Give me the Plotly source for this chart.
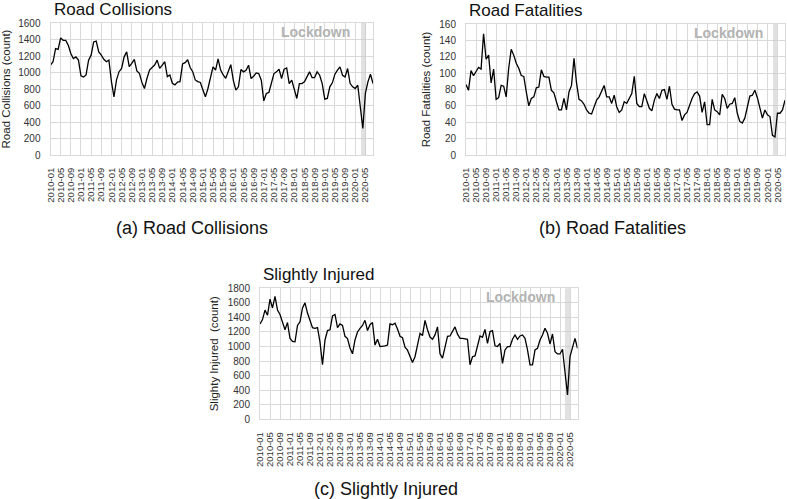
import plotly.graph_objects as go


MONTHS = [f"{y}-{m:02d}" for y in range(2010, 2021) for m in range(1, 13)][:128]

COLLISIONS = [
    1090, 1130, 1290, 1280, 1420, 1390, 1390, 1330, 1230, 1170,
    1190, 1150, 960, 945, 970, 1150, 1210, 1370, 1380, 1250,
    1210, 1160, 1130, 1150, 890, 705, 910, 1010, 1050, 1190,
    1250, 1070, 1110, 1160, 1020, 990, 880, 806, 930, 1030,
    1060, 1090, 1150, 1050, 1090, 1130, 950, 970, 870, 850,
    885, 890, 1105, 1120, 1155, 1060, 1010, 910, 890, 880,
    790, 705, 806, 947, 1068, 1030, 1165, 1030, 970, 930,
    1010, 1095, 905, 786, 826, 1036, 1008, 1028, 1088, 927,
    955, 995, 987, 907, 657, 746, 758, 887, 987, 1008,
    1040, 927, 1040, 1056, 866, 907, 786, 685, 866, 866,
    887, 947, 1008, 939, 939, 1008, 967, 866, 677, 685,
    826, 875, 980, 1028, 1068, 967, 947, 1048, 866, 826,
    806, 846, 600, 322, 746, 887, 979, 866,
]

FATALITIES = [
    86, 79, 103, 97, 102, 107, 105, 148, 117, 122,
    88, 105, 68, 70, 85, 84, 71, 106, 129, 122,
    112, 106, 97, 96, 77, 60, 69, 71, 82, 83,
    104, 96, 95, 95, 79, 76, 65, 55, 55, 69,
    55, 77, 85, 118, 88, 68, 66, 62, 55, 51,
    50, 58, 67, 71, 78, 85, 71, 71, 63, 73,
    59, 52, 55, 65, 63, 69, 75, 96, 63, 59,
    59, 75, 65, 57, 54, 67, 75, 69, 79, 80,
    68, 84, 62, 56, 55, 55, 42, 49, 52, 62,
    69, 75, 77, 72, 52, 65, 37, 37, 68, 55,
    53, 49, 74, 69, 57, 62, 63, 70, 51, 41,
    39, 45, 60, 72, 73, 79, 70, 59, 45, 55,
    49, 47, 24, 22, 51, 51, 55, 67,
]

SLIGHTLY_INJURED = [
    1310, 1370, 1500, 1430, 1650, 1530, 1690, 1500, 1440, 1340,
    1230, 1330, 1110, 1070, 1065, 1290, 1340, 1530, 1600, 1460,
    1370, 1260, 1250, 1260, 1060, 750, 1090, 1220, 1230, 1420,
    1440, 1260, 1310, 1290, 1140, 1110, 980, 900, 1090, 1200,
    1250, 1290, 1360, 1220, 1300, 1330, 1020, 1100, 1000, 1000,
    1010, 1020, 1310, 1300, 1320, 1240, 1140, 1120, 990, 950,
    860, 780, 860, 1040, 1180, 1150, 1360, 1230, 1130, 1100,
    1160, 1270, 900, 840, 1000, 1140, 1145, 1200, 1270, 1170,
    1113, 1113, 1110, 1100, 750, 860, 870, 1000, 1145, 1127,
    1236, 1044, 1205, 1218, 1010, 1000, 1044, 769, 953, 998,
    998, 1100, 1159, 1099, 1145, 1159, 1113, 953, 747, 747,
    953, 976, 1090, 1159, 1250, 1182, 1035, 1172, 930, 898,
    898, 962, 620, 334, 861, 1008, 1113, 976,
]

LOCKDOWN_MONTH = "2020-04"
TICK_MONTHS = MONTHS[::4]

W, H = 787, 499
FONT = "Liberation Sans, Arial, sans-serif"
GRID = "#d9d9d9"


def px(x):
    return x / W


def py(y):
    return 1 - y / H


# values, title, y-axis title, caption, y max, y step, plot box (left, right, top, bottom), caption centre
PANELS = [
    (COLLISIONS, "Road Collisions", "Road Collisions (count)", "(a) Road Collisions",
     1600, 200, (50.5, 373, 23, 155), (192, 228)),
    (FATALITIES, "Road Fatalities", "Road Fatalities (count)", "(b) Road Fatalities",
     160, 20, (466, 785, 24, 155), (612, 228)),
    (SLIGHTLY_INJURED, "Slightly Injured", "Slighty Injured  (count)", "(c) Slightly Injured",
     1800, 200, (260, 577.5, 288.3, 419.3), (386, 489)),
]

fig = go.Figure()
annotations = []

for i, (vals, title, ytitle, caption, ymax, ystep, box, cap) in enumerate(PANELS):
    n = "" if i == 0 else str(i + 1)
    left, right, top, bottom = box

    fig.add_trace(go.Scatter(
        x=MONTHS, y=vals, mode="lines",
        line=dict(color="black", width=1.3),
        xaxis="x" + n, yaxis="y" + n, showlegend=False,
    ))
    fig.add_trace(go.Bar(
        x=[LOCKDOWN_MONTH], y=[ymax], width=[1.9],
        marker=dict(color="rgba(200,200,200,0.55)", line=dict(width=0)),
        xaxis="x" + n, yaxis="y" + n, showlegend=False, hoverinfo="skip",
    ))

    fig.update_layout({
        "xaxis" + n: dict(
            type="category", categoryorder="array", categoryarray=MONTHS,
            range=[0, len(MONTHS) - 1],
            domain=[px(left), px(right)], anchor="y" + n,
            tickmode="array", tickvals=TICK_MONTHS, ticktext=TICK_MONTHS,
            tickangle=-90, tickfont=dict(size=9.5, color="#333333"),
            showgrid=True, gridcolor=GRID, gridwidth=1,
            showline=True, linecolor=GRID, mirror=True,
            ticks="", ticklabelstandoff=8, automargin=False,
        ),
        "yaxis" + n: dict(
            range=[0, ymax], dtick=ystep,
            domain=[py(bottom), py(top)], anchor="x" + n,
            tickfont=dict(size=10, color="#333333"),
            showgrid=True, gridcolor=GRID, gridwidth=1,
            showline=True, linecolor=GRID, mirror=True,
            ticks="", ticklabelstandoff=7,
            title=dict(text=ytitle, font=dict(size=11.5, color="#222222"), standoff=6),
            automargin=False, zeroline=False,
        ),
    })

    annotations.append(dict(
        text=title, xref="paper", yref="paper",
        x=px(left + 1), y=py(top - 13.5),
        xanchor="left", yanchor="middle", showarrow=False,
        font=dict(size=17, color="#111111"),
    ))
    annotations.append(dict(
        text="<b>Lockdown</b>", xref="x" + n + " domain", yref="y" + n + " domain",
        x=0.936, y=0.93, xanchor="right", yanchor="middle", showarrow=False,
        font=dict(size=14, color="#b3b3b3"),
    ))
    annotations.append(dict(
        text=caption, xref="paper", yref="paper",
        x=px(cap[0]), y=py(cap[1]),
        xanchor="center", yanchor="middle", showarrow=False,
        font=dict(size=18, color="#111111"),
    ))

fig.update_layout(
    width=W, height=H,
    margin=dict(l=0, r=0, t=0, b=0, autoexpand=False),
    paper_bgcolor="white", plot_bgcolor="white",
    font=dict(family=FONT),
    bargap=0,
    annotations=annotations,
)

# drop the page's default body margin so the figure sits at the window corner
fig.write_html(
    "out.html",
    config={"displayModeBar": False},
    post_script="document.body.style.margin='0'; document.body.style.overflow='hidden';",
)
